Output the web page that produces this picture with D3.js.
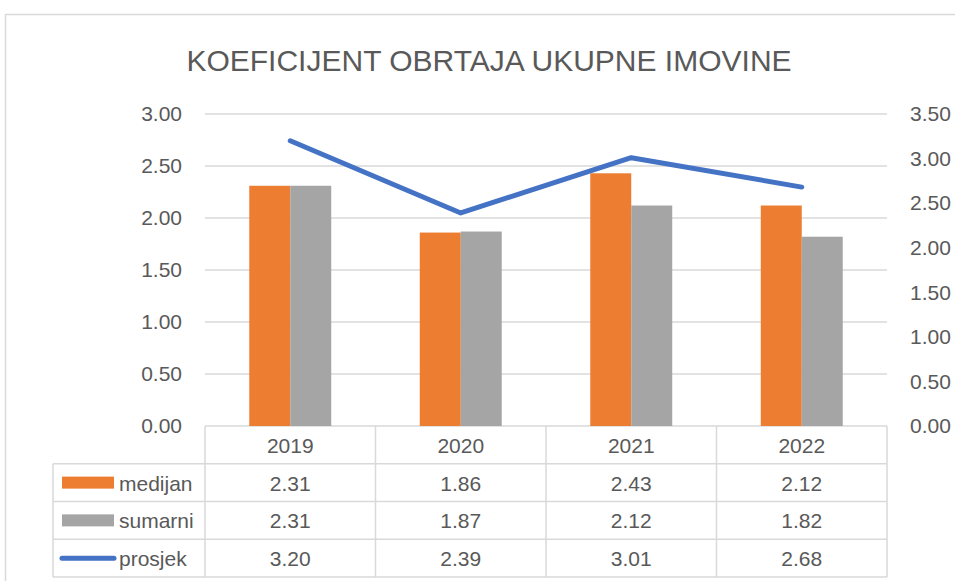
<!DOCTYPE html>
<html>
<head>
<meta charset="utf-8">
<script src="https://cdn.jsdelivr.net/npm/d3@7"></script>
<style>
  body { margin: 0; background: #fff; }
  text { font-family: 'Liberation Sans', Arial, sans-serif; fill: #595959; }
</style>
</head>
<body>
<div id="chart"></div>
<script>
// data
const years = ['2019', '2020', '2021', '2022'];
const medijan = [2.31, 1.86, 2.43, 2.12];
const sumarni = [2.31, 1.87, 2.12, 1.82];
const prosjek = [3.20, 2.39, 3.01, 2.68];
const leftTicks = [0, 0.5, 1, 1.5, 2, 2.5, 3];
const rightTicks = [0, 0.5, 1, 1.5, 2, 2.5, 3, 3.5];
const title = 'KOEFICIJENT OBRTAJA UKUPNE IMOVINE';

const width = 955, height = 581;
const margin = {top: 114, right: 68, bottom: 155, left: 205}; // plot box
const colors = {medijan: '#ED7D31', sumarni: '#A5A5A5', prosjek: '#4472C4'};
const grid = '#D9D9D9';

const svg = d3.select('#chart').append('svg')
    .attr('width', width)
    .attr('height', height);

// outer chart border
svg.append('rect')
    .attr('x', 5.5).attr('y', 14.5)
    .attr('width', 1000).attr('height', 700)
    .attr('fill', 'none').attr('stroke', grid).attr('stroke-width', 1.5);

svg.append('text')
    .attr('x', 489).attr('y', 71)
    .attr('text-anchor', 'middle')
    .style('font-size', '30px')
    .text(title);

// scales
const plotBottom = height - margin.bottom;
const x = d3.scaleBand(years, [margin.left, width - margin.right]);
const xInner = d3.scaleBand(['medijan', 'sumarni'], [0, x.bandwidth()]).paddingOuter(1.08);
const yLeft = d3.scaleLinear([0, 3], [plotBottom, margin.top]);
const yRight = d3.scaleLinear([0, 3.5], [plotBottom, margin.top]);

// gridlines
svg.append('g')
    .selectAll('line')
    .data(leftTicks)
    .join('line')
    .attr('x1', margin.left).attr('x2', width - margin.right)
    .attr('y1', d => yLeft(d)).attr('y2', d => yLeft(d))
    .attr('stroke', grid).attr('stroke-width', 1.5);

// axes (labels only)
const axisL = svg.append('g')
    .attr('transform', `translate(${margin.left - 23},0)`)
    .call(d3.axisLeft(yLeft).tickValues(leftTicks).tickFormat(d3.format('.2f')).tickSize(0).tickPadding(0));
const axisR = svg.append('g')
    .attr('transform', `translate(${width - margin.right + 23},0)`)
    .call(d3.axisRight(yRight).tickValues(rightTicks).tickFormat(d3.format('.2f')).tickSize(0).tickPadding(0));
[axisL, axisR].forEach(a => {
    a.select('.domain').remove();
    a.selectAll('text').style('font-size', '21px').attr('fill', '#595959')
        .style('font-family', "'Liberation Sans', Arial, sans-serif");
});

// bars
const bars = [];
years.forEach((yr, i) => {
    bars.push({year: yr, key: 'medijan', value: medijan[i]});
    bars.push({year: yr, key: 'sumarni', value: sumarni[i]});
});
svg.append('g')
    .selectAll('rect')
    .data(bars)
    .join('rect')
    .attr('x', d => x(d.year) + xInner(d.key))
    .attr('width', xInner.bandwidth())
    .attr('y', d => yLeft(d.value))
    .attr('height', d => plotBottom - yLeft(d.value))
    .attr('fill', d => colors[d.key]);

// prosjek line on the right axis
const line = d3.line()
    .x((d, i) => x(years[i]) + x.bandwidth() / 2)
    .y(d => yRight(d));
svg.append('path')
    .datum(prosjek)
    .attr('d', line)
    .attr('fill', 'none')
    .attr('stroke', colors.prosjek)
    .attr('stroke-width', 5)
    .attr('stroke-linecap', 'round')
    .attr('stroke-linejoin', 'round');

// data table
const rows = ['header', 'medijan', 'sumarni', 'prosjek'];
const rowVals = {medijan, sumarni, prosjek};
const yRow = d3.scaleBand(rows, [plotBottom, height - 4]);
const legendLeft = 53;
const table = svg.append('g');

// horizontal rules
table.selectAll('line.h')
    .data(rows.slice(1).concat(['end']))
    .join('line')
    .attr('class', 'h')
    .attr('x1', legendLeft).attr('x2', width - margin.right)
    .attr('y1', d => d === 'end' ? yRow.range()[1] : yRow(d))
    .attr('y2', d => d === 'end' ? yRow.range()[1] : yRow(d))
    .attr('stroke', grid).attr('stroke-width', 1.5);
// vertical rules
const vx = years.map(d => x(d)).concat([width - margin.right]);
table.selectAll('line.v')
    .data(vx)
    .join('line')
    .attr('class', 'v')
    .attr('x1', d => d).attr('x2', d => d)
    .attr('y1', plotBottom).attr('y2', yRow.range()[1])
    .attr('stroke', grid).attr('stroke-width', 1.5);
table.append('line')
    .attr('x1', legendLeft).attr('x2', legendLeft)
    .attr('y1', yRow('medijan')).attr('y2', yRow.range()[1])
    .attr('stroke', grid).attr('stroke-width', 1.5);

// header years
table.selectAll('text.yr')
    .data(years)
    .join('text')
    .attr('class', 'yr')
    .attr('x', d => x(d) + x.bandwidth() / 2)
    .attr('y', yRow('header') + yRow.bandwidth() / 2 + 8)
    .attr('text-anchor', 'middle')
    .style('font-size', '21px')
    .text(d => d);

// value cells
rows.slice(1).forEach(r => {
    const cy = yRow(r) + yRow.bandwidth() / 2;
    table.append('g')
        .selectAll('text')
        .data(rowVals[r])
        .join('text')
        .attr('x', (d, i) => x(years[i]) + x.bandwidth() / 2)
        .attr('y', cy + 8)
        .attr('text-anchor', 'middle')
        .style('font-size', '21px')
        .text(d => d3.format('.2f')(d));

    // legend key
    if (r === 'prosjek') {
        table.append('line')
            .attr('x1', 62).attr('x2', 114)
            .attr('y1', cy).attr('y2', cy)
            .attr('stroke', colors[r]).attr('stroke-width', 5)
            .attr('stroke-linecap', 'round');
    } else {
        table.append('rect')
            .attr('x', 62).attr('y', cy - 6)
            .attr('width', 52).attr('height', 12)
            .attr('fill', colors[r]);
    }
    table.append('text')
        .attr('x', 119).attr('y', cy + 8)
        .style('font-size', '21px')
        .text(r);
});
</script>
</body>
</html>
